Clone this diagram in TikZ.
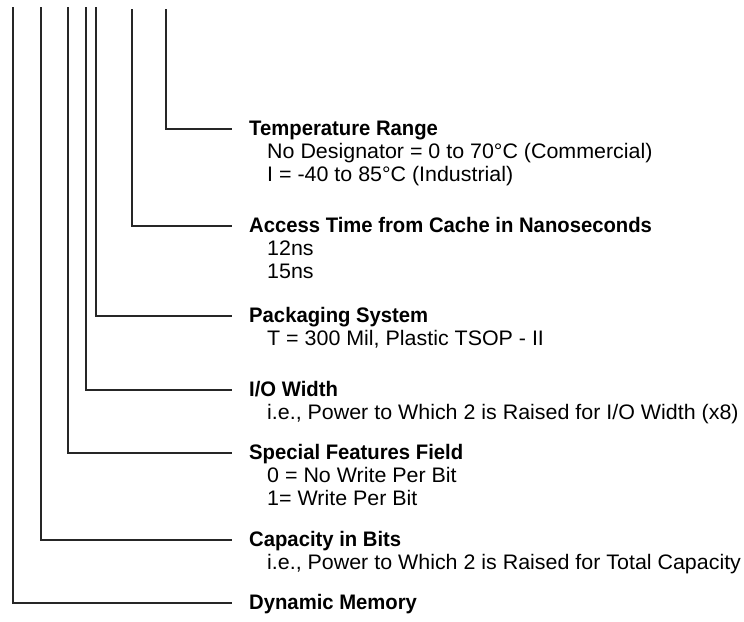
\documentclass[tikz,border=0pt]{standalone}
\usepackage{fontspec}
\setmainfont{Liberation Sans}[FakeStretch=1.02, BoldFeatures={FakeStretch=0.965}]
\usetikzlibrary{positioning, calc}
\tikzset{
  field/.style={anchor=west, inner sep=0pt, font=\fontsize{21}{23}\selectfont\bfseries,
                text height=15pt, text depth=3pt},
  option/.style={anchor=base west, inner sep=0pt, font=\fontsize{21}{23}\selectfont},
  lead/.style={draw=black!85, line width=1.1pt},
}

\begin{document}
\begin{tikzpicture}[x=1pt, y=-1pt]
\useasboundingbox (0,0) rectangle (744,621);
% tops of the leads
\coordinate (top1) at (13,7);
\coordinate (top2) at (41,7);
\coordinate (top3) at (68,7);
\coordinate (top4) at (86,7);
\coordinate (top5) at (96,7);
\coordinate (top6) at (132,9);
\coordinate (top7) at (166,9);

\node[field] (temp) at (249,129) {Temperature Range};
\node[option] (temp1) at ([xshift=18pt,yshift=-23pt]temp.base west) {No Designator = 0 to 70°C (Commercial)};
\node[option] (temp2) at ([yshift=-23pt]temp1.base west) {I = -40 to 85°C (Industrial)};

\node[field] (access) at (249,226) {Access Time from Cache in Nanoseconds};
\node[option] (access1) at ([xshift=18pt,yshift=-23pt]access.base west) {12ns};
\node[option] (access2) at ([yshift=-23pt]access1.base west) {15ns};

\node[field] (pack) at (249,316) {Packaging System};
\node[option] (pack1) at ([xshift=18pt,yshift=-23pt]pack.base west) {T = 300 Mil, Plastic TSOP - II};

\node[field] (width) at (249,390) {I/O Width};
\node[option] (width1) at ([xshift=18pt,yshift=-23pt]width.base west) {i.e., Power to Which 2 is Raised for I/O Width (x8)};

\node[field] (feat) at (249,453) {Special Features Field};
\node[option] (feat1) at ([xshift=18pt,yshift=-23pt]feat.base west) {0 = No Write Per Bit};
\node[option] (feat2) at ([yshift=-23pt]feat1.base west) {1= Write Per Bit};

\node[field] (cap) at (249,540) {Capacity in Bits};
\node[option] (cap1) at ([xshift=18pt,yshift=-23pt]cap.base west) {i.e., Power to Which 2 is Raised for Total Capacity};

\node[field] (dyn) at (249,603) {Dynamic Memory};

\draw[lead] (top7) |- ([xshift=-17pt]temp.west);
\draw[lead] (top6) |- ([xshift=-17pt]access.west);
\draw[lead] (top5) |- ([xshift=-17pt]pack.west);
\draw[lead] (top4) |- ([xshift=-17pt]width.west);
\draw[lead] (top3) |- ([xshift=-17pt]feat.west);
\draw[lead] (top2) |- ([xshift=-17pt]cap.west);
\draw[lead] (top1) |- ([xshift=-17pt]dyn.west);
\end{tikzpicture}
\end{document}
